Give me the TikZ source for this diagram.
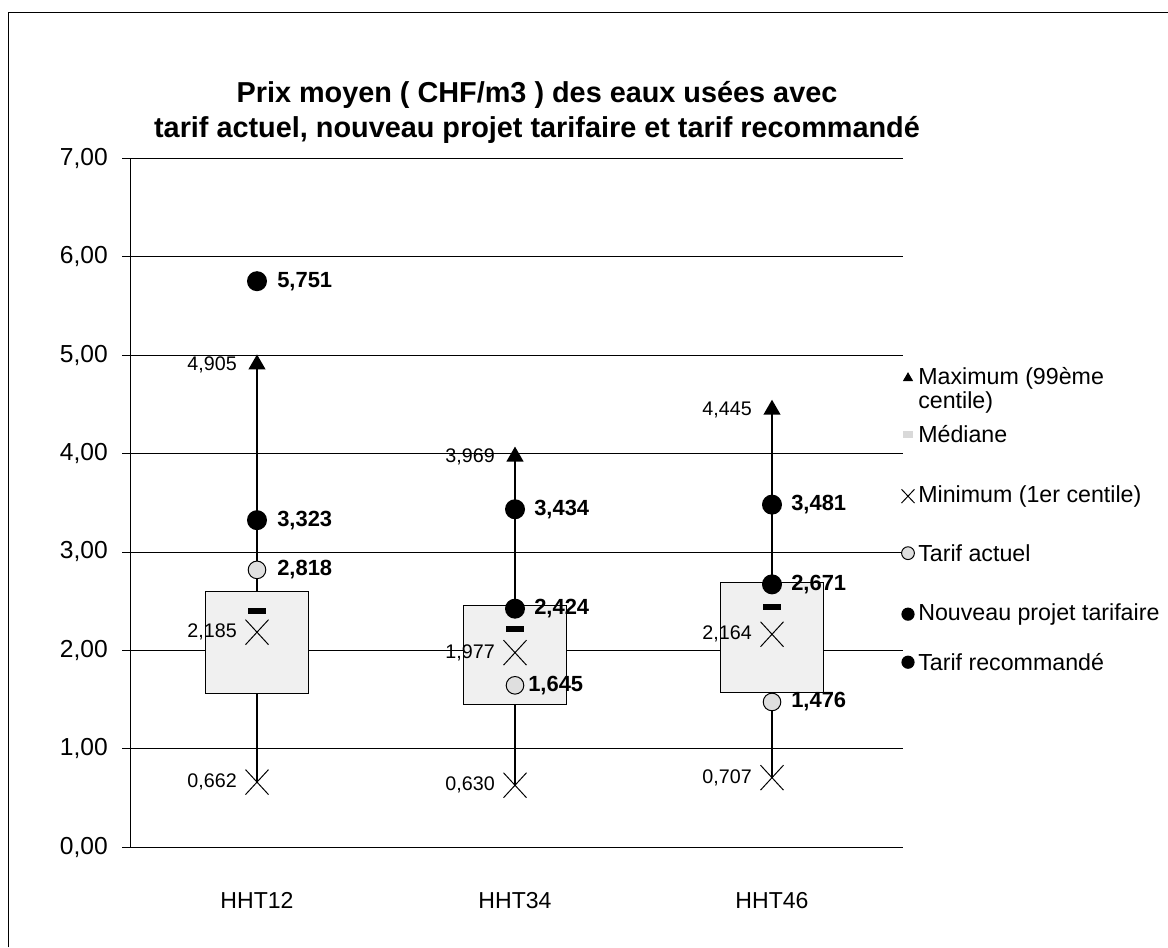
\documentclass[tikz,border=0pt]{standalone}
\usepackage{fontspec}
\setmainfont{Liberation Sans}
\usetikzlibrary{shapes.geometric,shapes.misc}

\tikzset{
  gridline/.style={line width=0.6pt},
  boxq/.style={draw, line width=0.8pt, fill=gray!12},
  whisker/.style={line width=1.1pt},
  maxmark/.style={regular polygon, regular polygon sides=3, fill=black, inner sep=0pt, minimum size=0.5cm},
  minmark/.style={cross out, draw, line width=0.7pt, inner sep=0pt, minimum width=0.55cm, minimum height=0.6cm},
  medmark/.style={rectangle, fill=black, inner sep=0pt, minimum width=0.45cm, minimum height=0.15cm},
  dotmark/.style={circle, fill=black, inner sep=0pt, minimum size=0.5cm},
  actmark/.style={circle, draw, line width=0.7pt, fill=gray!25, inner sep=0pt, minimum size=0.44cm},
  vallab/.style={anchor=east, inner sep=0pt, font=\fontsize{14}{16}\selectfont},
  boldlab/.style={anchor=west, inner sep=0pt, font=\bfseries\fontsize{15.6}{18}\selectfont},
  axlab/.style={anchor=east, inner sep=0pt, font=\fontsize{17.5}{20}\selectfont},
  catlab/.style={inner sep=0pt, font=\fontsize{16.4}{19}\selectfont},
  leglab/.style={anchor=west, inner sep=0pt, align=left, font=\fontsize{16.5}{17}\selectfont},
  titlef/.style={align=center, inner sep=0pt, font=\bfseries\fontsize{20.5}{25}\selectfont}
}

\begin{document}
\begin{tikzpicture}[x=0.025cm, y=2.46cm]
  \useasboundingbox (-130,-1.016) rectangle (1038,8.608);
  \draw[line width=0.6pt] (-122,-1.016) -- (-122,8.486) -- (1038,8.486);

  \node[titlef] (title) at (407,7.465) {Prix moyen ( CHF/m3 ) des eaux usées avec\\tarif actuel, nouveau projet tarifaire et tarif recommandé};

  % grid and y axis
  \foreach \v in {0,...,7} {
    \draw[gridline] (-8,\v) -- (772.5,\v);
    \node[axlab] (y\v) at (-22,\v) {\v,00};
  }
  \draw[gridline] (0,0) -- (0,7);

  % HHT12
  \coordinate (max12) at (127,4.905);
  \coordinate (min12) at (127,0.662);
  \draw[whisker] (min12) -- (max12);
  \draw[boxq] (75.5,1.565) rectangle (178.5,2.60);
  \node[maxmark] (tmax12) at (max12) {};
  \node[minmark] (tmin12) at (min12) {};
  \node[minmark] (mean12) at (127,2.185) {};
  \node[medmark] (med12) at (127,2.40) {};
  \node[actmark] (act12) at (127,2.818) {};
  \node[dotmark] (nouv12) at (127,3.323) {};
  \node[dotmark] (rec12) at (127,5.751) {};
  \node[vallab] at (107,4.905) {4,905};
  \node[vallab] at (107,0.662) {0,662};
  \node[vallab] at (107,2.185) {2,185};
  \node[boldlab] at (147,5.751) {5,751};
  \node[boldlab] at (147,3.323) {3,323};
  \node[boldlab] at (147,2.818) {2,818};

  % HHT34
  \coordinate (max34) at (385,3.969);
  \coordinate (min34) at (385,0.630);
  \draw[whisker] (min34) -- (max34);
  \draw[boxq] (333.5,1.45) rectangle (436.5,2.46);
  \node[maxmark] (tmax34) at (max34) {};
  \node[minmark] (tmin34) at (min34) {};
  \node[minmark] (mean34) at (385,1.977) {};
  \node[medmark] (med34) at (385,2.215) {};
  \node[actmark] (act34) at (385,1.645) {};
  \node[dotmark] (nouv34) at (385,3.434) {};
  \node[dotmark] (rec34) at (385,2.424) {};
  \node[vallab] at (365,3.969) {3,969};
  \node[vallab] at (365,0.630) {0,630};
  \node[vallab] at (365,1.977) {1,977};
  \node[boldlab] at (404,3.434) {3,434};
  \node[boldlab] at (404,2.424) {2,424};
  \node[boldlab] at (398,1.645) {1,645};

  % HHT46
  \coordinate (max46) at (642,4.445);
  \coordinate (min46) at (642,0.707);
  \draw[whisker] (min46) -- (max46);
  \draw[boxq] (590.5,1.575) rectangle (693.5,2.69);
  \node[maxmark] (tmax46) at (max46) {};
  \node[minmark] (tmin46) at (min46) {};
  \node[minmark] (mean46) at (642,2.164) {};
  \node[medmark] (med46) at (642,2.44) {};
  \node[actmark] (act46) at (642,1.476) {};
  \node[dotmark] (nouv46) at (642,3.481) {};
  \node[dotmark] (rec46) at (642,2.671) {};
  \node[vallab] at (622,4.445) {4,445};
  \node[vallab] at (622,0.707) {0,707};
  \node[vallab] at (622,2.164) {2,164};
  \node[boldlab] at (661,3.481) {3,481};
  \node[boldlab] at (661,2.671) {2,671};
  \node[boldlab] at (661,1.476) {1,476};

  % categories
  \node[catlab] (c12) at (127,-0.539) {HHT12};
  \node[catlab] (c34) at (385,-0.539) {HHT34};
  \node[catlab] (c46) at (642,-0.539) {HHT46};

  % legend
  \node[maxmark, minimum size=0.3cm] (lmax) at (778,4.766) {};
  \node[leglab] at (788,4.644) {Maximum (99ème\\centile)};
  \node[rectangle, fill=gray!30, inner sep=0pt, minimum width=0.25cm, minimum height=0.18cm] (lmed) at (778,4.197) {};
  \node[leglab] at (788,4.197) {Médiane};
  \node[minmark, minimum width=0.3cm, minimum height=0.32cm] (lmin) at (778,3.567) {};
  \node[leglab] at (788,3.567) {Minimum (1er centile)};
  \node[actmark, minimum size=0.32cm] (lact) at (778,2.988) {};
  \node[leglab] at (788,2.988) {Tarif actuel};
  \node[dotmark, minimum size=0.33cm] (lnouv) at (778,2.368) {};
  \node[leglab] at (788,2.368) {Nouveau projet tarifaire};
  \node[dotmark, minimum size=0.33cm] (lrec) at (778,1.880) {};
  \node[leglab] at (788,1.880) {Tarif recommandé};
\end{tikzpicture}
\end{document}
